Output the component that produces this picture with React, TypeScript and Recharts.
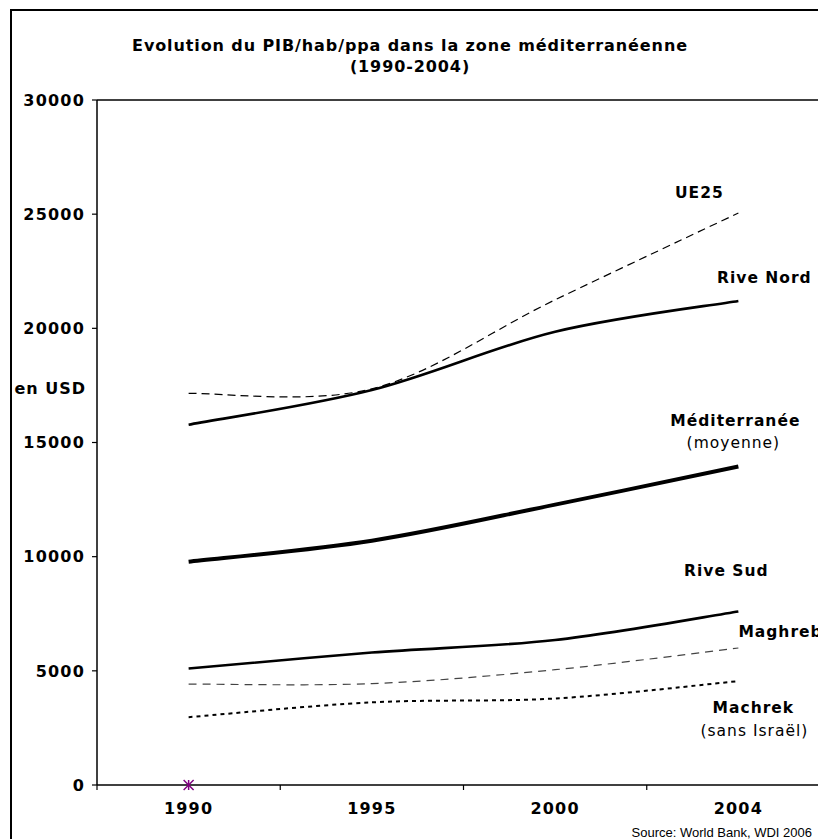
import React from "react";
import { LineChart, Line, XAxis, YAxis, ReferenceLine } from "recharts";

// Data (PIB/hab/ppa, USD)
const years = ["1990", "1995", "2000", "2004"];
const ue25 = [17150, 17350, 21250, 25050];
const riveNord = [15780, 17300, 19850, 21200];
const mediterranee = [9780, 10700, 12280, 13950];
const riveSud = [5100, 5800, 6350, 7600];
const maghreb = [4420, 4440, 5050, 6000];
const machrek = [2970, 3620, 3790, 4550];
const marker = [0, null, null, null];

const yTicks = [0, 5000, 10000, 15000, 20000, 25000, 30000];

const data = years.map((year, i) => ({
  year,
  ue25: ue25[i],
  riveNord: riveNord[i],
  mediterranee: mediterranee[i],
  riveSud: riveSud[i],
  maghreb: maghreb[i],
  machrek: machrek[i],
  marker: marker[i],
}));

const FONT = "'DejaVu Sans', Verdana, sans-serif";

// Excel-like smoothing (Catmull-Rom through every point)
function catmullRom(context: any) {
  let pts: [number, number][] = [];
  return {
    areaStart() {},
    areaEnd() {},
    lineStart() {
      pts = [];
    },
    point(x: number, y: number) {
      pts.push([x, y]);
    },
    lineEnd() {
      const n = pts.length;
      if (!n) return;
      context.moveTo(pts[0][0], pts[0][1]);
      for (let i = 0; i < n - 1; i++) {
        const p0 = pts[Math.max(i - 1, 0)];
        const p1 = pts[i];
        const p2 = pts[i + 1];
        const p3 = pts[Math.min(i + 2, n - 1)];
        context.bezierCurveTo(
          p1[0] + (p2[0] - p0[0]) / 6,
          p1[1] + (p2[1] - p0[1]) / 6,
          p2[0] - (p3[0] - p1[0]) / 6,
          p2[1] - (p3[1] - p1[1]) / 6,
          p2[0],
          p2[1]
        );
      }
    },
  };
}

const labelStyle = { fontFamily: FONT, fontSize: 15.5, fontWeight: 700, fill: "#000", letterSpacing: 1 };
const subStyle = { fontFamily: FONT, fontSize: 15.5, fontWeight: 400, fill: "#000", letterSpacing: 1 };
const tickFont = { fontFamily: FONT, fontSize: 16, fontWeight: 700, fill: "#000", letterSpacing: 1.2 };

// end-of-line annotation, anchored to the last point of the series
const endLabel =
  (lines: { text: string; dx: number; dy: number; bold?: boolean; anchor?: string }[]) =>
  (props: any) => {
    if (props.index !== years.length - 1) return <g key={`l-${props.index}`} />;
    return (
      <g key={`l-${props.index}`}>
        {lines.map((l, k) => (
          <text
            key={k}
            x={props.x + l.dx}
            y={props.y + l.dy}
            textAnchor={l.anchor || "middle"}
            dominantBaseline="central"
            style={l.bold === false ? subStyle : labelStyle}
          >
            {l.text}
          </text>
        ))}
      </g>
    );
  };

const StarDot = (props: any) => {
  const { cx, cy, value, index } = props;
  if (value == null || cy == null) return <g key={`s-${index}`} />;
  const r = 5;
  return (
    <g key={`s-${index}`} stroke="#800080" strokeWidth={1.5}>
      <line x1={cx} y1={cy - r} x2={cx} y2={cy + r} />
      <line x1={cx - r} y1={cy - r} x2={cx + r} y2={cy + r} />
      <line x1={cx - r} y1={cy + r} x2={cx + r} y2={cy - r} />
    </g>
  );
};

// category label, with the tick mark drawn on the category boundary (Excel style)
const TICK_MARGIN = 18;
const YearTick = (props: any) => {
  const { x, y, payload } = props;
  const half = payload && payload.offset ? payload.offset : 0;
  const axisY = y - TICK_MARGIN;
  return (
    <g>
      <line x1={x - half} y1={axisY} x2={x - half} y2={axisY + 5} stroke="#000" strokeWidth={1.2} />
      <text x={x} y={y} dy="0.71em" textAnchor="middle" style={tickFont}>
        {payload.value}
      </text>
    </g>
  );
};

export default function App() {
  return (
    <div
      style={{
        position: "absolute",
        left: 0,
        top: 0,
        width: 818,
        height: 839,
        overflow: "hidden",
        background: "#fff",
      }}
    >
      <div
        style={{
          position: "absolute",
          left: 10,
          top: 9,
          width: 900,
          height: 900,
          border: "2px solid #000",
        }}
      />
      <div
        style={{
          position: "absolute",
          left: 0,
          top: 35,
          width: 820,
          textAlign: "center",
          fontFamily: FONT,
          fontWeight: 700,
          fontSize: 16,
          letterSpacing: 0.9,
          lineHeight: "21px",
        }}
      >
        Evolution du PIB/hab/ppa dans la zone méditerranéenne
        <br />
        (1990-2004)
      </div>
      <LineChart
        width={860}
        height={860}
        data={data}
        margin={{ top: 100, right: 30, bottom: 45, left: 0 }}
        style={{ position: "absolute", left: 0, top: 0 }}
      >
        <XAxis
          xAxisId="cat"
          dataKey="year"
          scale="band"
          height={30}
          tickLine={false}
          tickSize={0}
          tickMargin={TICK_MARGIN}
          interval={0}
          axisLine={{ stroke: "#000", strokeWidth: 1.5 }}
          tick={<YearTick />}
        />
        <YAxis
          width={97}
          domain={[0, 30000]}
          ticks={yTicks}
          interval={0}
          tickSize={5}
          tickMargin={7}
          axisLine={{ stroke: "#000", strokeWidth: 1.5 }}
          tickLine={{ stroke: "#000", strokeWidth: 1.2 }}
          tick={tickFont}
          label={{
            value: "en USD",
            position: "insideRight",
            offset: 11,
            dy: -54,
            style: { ...tickFont, letterSpacing: 1 },
          }}
        />
        <ReferenceLine xAxisId="cat" y={30000} stroke="#000" strokeWidth={1.5} />
        <Line
          xAxisId="cat"
          dataKey="ue25"
          type={catmullRom as any}
          stroke="#000"
          strokeWidth={1.2}
          strokeDasharray="8 5"
          dot={false}
          isAnimationActive={false}
          label={endLabel([{ text: "UE25", dx: -39, dy: -20 }])}
        />
        <Line
          xAxisId="cat"
          dataKey="riveNord"
          type={catmullRom as any}
          stroke="#000"
          strokeWidth={2.6}
          dot={false}
          isAnimationActive={false}
          label={endLabel([{ text: "Rive Nord", dx: 26, dy: -23 }])}
        />
        <Line
          xAxisId="cat"
          dataKey="mediterranee"
          type={catmullRom as any}
          stroke="#000"
          strokeWidth={4}
          dot={false}
          isAnimationActive={false}
          label={endLabel([
            { text: "Méditerranée", dx: -3, dy: -45 },
            { text: "(moyenne)", dx: -5, dy: -23, bold: false },
          ])}
        />
        <Line
          xAxisId="cat"
          dataKey="riveSud"
          type={catmullRom as any}
          stroke="#000"
          strokeWidth={2.6}
          dot={false}
          isAnimationActive={false}
          label={endLabel([{ text: "Rive Sud", dx: -12, dy: -40 }])}
        />
        <Line
          xAxisId="cat"
          dataKey="maghreb"
          type={catmullRom as any}
          stroke="#444"
          strokeWidth={1.2}
          strokeDasharray="8 6"
          dot={false}
          isAnimationActive={false}
          label={endLabel([{ text: "Maghreb", dx: 0, dy: -16, anchor: "start" }])}
        />
        <Line
          xAxisId="cat"
          dataKey="machrek"
          type={catmullRom as any}
          stroke="#000"
          strokeWidth={2}
          strokeDasharray="4 4"
          dot={false}
          isAnimationActive={false}
          label={endLabel([
            { text: "Machrek", dx: 15, dy: 27 },
            { text: "(sans Israël)", dx: 16, dy: 50, bold: false },
          ])}
        />
        <Line
          xAxisId="cat"
          dataKey="marker"
          stroke="none"
          dot={<StarDot />}
          activeDot={false}
          isAnimationActive={false}
        />
      </LineChart>
      <div
        style={{
          position: "absolute",
          left: 0,
          top: 825,
          width: 812,
          textAlign: "right",
          fontFamily: "'Liberation Sans', Arial, sans-serif",
          fontSize: 13,
          lineHeight: "16px",
        }}
      >
        Source: World Bank, WDI 2006
      </div>
    </div>
  );
}
